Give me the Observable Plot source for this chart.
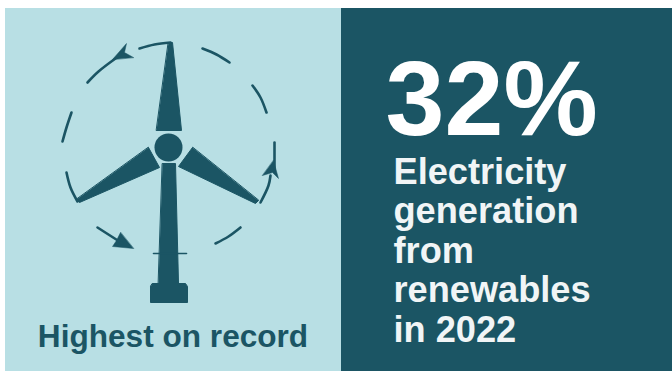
<!DOCTYPE html>
<html>
<head>
<meta charset="utf-8">
<style>
  html, body { margin: 0; padding: 0; background: #fff; }
  svg { display: block; }
</style>
<script src="https://cdn.jsdelivr.net/npm/d3@7"></script>
<script src="https://cdn.jsdelivr.net/npm/@observablehq/plot@0.6"></script>
</head>
<body>
<script>
const LIGHT = "#b8dfe4";
const DARK = "#1b5564";
const FONT = "'Liberation Sans', Arial, sans-serif";

// Background panels
const panels = [
  {x1: 5, x2: 341, y1: 8, y2: 371, color: LIGHT},
  {x1: 341, x2: 672, y1: 8, y2: 371, color: DARK}
];

// Solid turbine parts, each an outline in the drawing's own units
const turbineParts = {
  bladeTop: [[168, 42], [172, 42], [181, 130], [156, 130]],
  bladeLeft: [[148, 147], [159, 167], [79, 202], [76, 199]],
  bladeRight: [[192, 147], [178, 166], [255, 203], [258, 200]],
  tower: [[162, 163], [175, 163], [178, 283], [158, 283]],
  base: [[152, 283], [185, 283], [187, 286], [187, 302], [150, 302], [150, 286]]
};
const hub = [{x: 168, y: 147}];
const towerBand = [[153, 253], [186, 253]];

// Broken ring of rotation strokes around the rotor
const ringStrokes = [
  [[139, 48], [154, 44], [170, 42]],
  [[202, 48], [216, 54], [229, 62]],
  [[252, 85], [260, 97], [266, 112]],
  [[274, 142], [274, 170]],
  [[270, 175], [268, 185], [260, 202]],
  [[240, 227], [228, 236], [215, 243]],
  [[97, 227], [122, 243]],
  [[66, 172], [70, 187], [77, 201]],
  [[71, 112], [66, 127], [62, 141]],
  [[87, 82], [98, 71], [115, 58]]
];

// Arrowheads on the ring
const arrowHeads = [
  [[112, 59], [126, 43], [124, 52], [133, 57]],
  [[273, 160], [278, 178], [272, 172], [262, 175]],
  [[133, 248], [112, 246], [116, 240], [120, 232]]
];

const headline = [{text: "32%", x: 385, y: 134}];
const bodyLines = ["Electricity", "generation", "from", "renewables", "in 2022"];
const bodyBaselines = [183, 222, 262, 301, 341];
const caption = [{text: "Highest on record", x: 172.5, y: 346}];

// Flatten outlines into one table keyed by shape
const outline = (rows, prefix) => rows.flatMap((pts, i) =>
  pts.map(([x, y]) => ({x, y, shape: `${prefix}${i}`})));
const solidRows = Object.entries(turbineParts).flatMap(([name, pts]) =>
  pts.map(([x, y]) => ({x, y, shape: name})));

const chart = Plot.plot({
  width: 672,
  height: 371,
  margin: 0,
  x: {domain: [0, 672], axis: null},
  y: {domain: [371, 0], axis: null},
  marks: [
    Plot.rect(panels, {x1: "x1", x2: "x2", y1: "y1", y2: "y2", fill: "color"}),
    Plot.line(solidRows, {x: "x", y: "y", z: "shape", fill: DARK, stroke: DARK, strokeWidth: 1, curve: "linear-closed"}),
    Plot.line(outline(arrowHeads, "head"), {x: "x", y: "y", z: "shape", fill: DARK, stroke: DARK, strokeWidth: 0.5, curve: "linear-closed"}),
    Plot.line(outline(ringStrokes, "ring"), {x: "x", y: "y", z: "shape", stroke: DARK, strokeWidth: 2.6, strokeLinecap: "round", curve: "catmull-rom"}),
    Plot.line(towerBand.map(([x, y]) => ({x, y})), {x: "x", y: "y", stroke: DARK, strokeWidth: 1.6}),
    Plot.dot(hub, {x: "x", y: "y", r: 14, fill: DARK, stroke: "none"}),
    Plot.text(headline, {x: "x", y: "y", text: "text", textAnchor: "start", lineAnchor: "bottom", fill: "#fff", fontFamily: FONT, fontWeight: 700, fontSize: 106}),
    Plot.text(bodyLines, {x: () => 393, y: (d, i) => bodyBaselines[i], text: d => d, textAnchor: "start", lineAnchor: "bottom", fill: "#f1f5f6", fontFamily: FONT, fontWeight: 700, fontSize: 36.2}),
    Plot.text(caption, {x: "x", y: "y", text: "text", textAnchor: "middle", lineAnchor: "bottom", fill: DARK, fontFamily: FONT, fontWeight: 700, fontSize: 31.6})
  ]
});
document.body.appendChild(chart);
</script>
</body>
</html>
